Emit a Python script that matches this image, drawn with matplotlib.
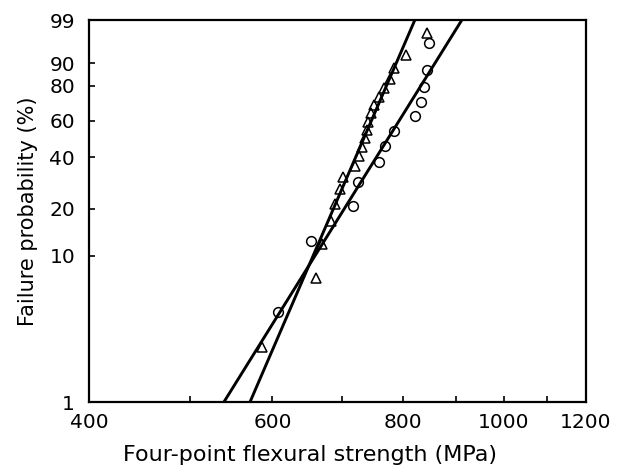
import numpy as np
import matplotlib
matplotlib.use("Agg")
import matplotlib.pyplot as plt
from matplotlib.ticker import FixedLocator, NullFormatter, FixedFormatter

# ---- data ----
circle_strength = [607, 653, 717, 725, 759, 770, 785, 822, 833, 839, 845, 848]
circle_prob = [4.2, 12.5, 20.8, 29.2, 37.5, 45.8, 54.2, 62.5, 70.8, 79.2, 87.5, 95.8]

triangle_strength = [586, 661, 669, 683, 689, 697, 702, 720, 727, 731, 736,
                     740, 741, 746, 751, 759, 768, 778, 785, 806, 844]
triangle_prob = [2.4, 7.1, 11.9, 16.7, 21.4, 26.2, 31.0, 35.7, 40.5, 45.2, 50.0,
                 54.8, 59.5, 64.3, 69.0, 73.8, 78.6, 83.3, 88.1, 92.9, 97.6]

# fitted Weibull lines: strength at 1 % and 99 %
circle_fit_strength = [539, 912]
triangle_fit_strength = [571, 822]
fit_prob = [1, 99]

x_ticks = [400, 600, 800, 1000, 1200]
x_minor = [500, 700, 900, 1100]
y_ticks = [1, 10, 20, 40, 60, 80, 90, 99]


def fwd(p):
    p = np.clip(np.asarray(p, dtype=float), 1e-6, 100 - 1e-6)
    return np.log(-np.log(1 - p / 100.0))


def inv(w):
    w = np.asarray(w, dtype=float)
    return 100.0 * (1 - np.exp(-np.exp(w)))


plt.rcParams['font.family'] = ['DejaVu Sans']

fig = plt.figure(figsize=(6.23, 4.67), dpi=100)
ax = fig.add_axes([89 / 623, 1 - 402 / 467, (586 - 89) / 623, (402 - 20) / 467])

ax.set_xscale('log')
ax.set_yscale('function', functions=(fwd, inv))
ax.set_xlim(400, 1200)
ax.set_ylim(1, 99)

ax.plot(circle_fit_strength, fit_prob, color='black', lw=2.1, solid_capstyle='butt')
ax.plot(triangle_fit_strength, fit_prob, color='black', lw=2.1, solid_capstyle='butt')

ax.plot(circle_strength, circle_prob, linestyle='none', marker='o', ms=7,
        mfc='none', mec='black', mew=1.1)
ax.plot(triangle_strength, triangle_prob, linestyle='none', marker='^', ms=7.5,
        mfc='none', mec='black', mew=1.1)

ax.xaxis.set_major_locator(FixedLocator(x_ticks))
ax.xaxis.set_major_formatter(FixedFormatter([str(v) for v in x_ticks]))
ax.xaxis.set_minor_locator(FixedLocator(x_minor))
ax.xaxis.set_minor_formatter(NullFormatter())
ax.yaxis.set_major_locator(FixedLocator(y_ticks))
ax.yaxis.set_major_formatter(FixedFormatter([str(v) for v in y_ticks]))
ax.yaxis.set_minor_locator(FixedLocator([]))

ax.tick_params(axis='both', which='both', direction='in', length=4, width=1.2,
               labelsize=14.5, top=False, right=False)
ax.tick_params(axis='x', pad=8)
ax.tick_params(axis='y', pad=10)

for s in ax.spines.values():
    s.set_linewidth(1.6)

ax.set_xlabel('Four-point flexural strength (MPa)', fontsize=16)
ax.xaxis.set_label_coords(0.445, -0.112)
ax.set_ylabel('Failure probability (%)', fontsize=15, labelpad=8)

fig.savefig('out.png', dpi=100)
